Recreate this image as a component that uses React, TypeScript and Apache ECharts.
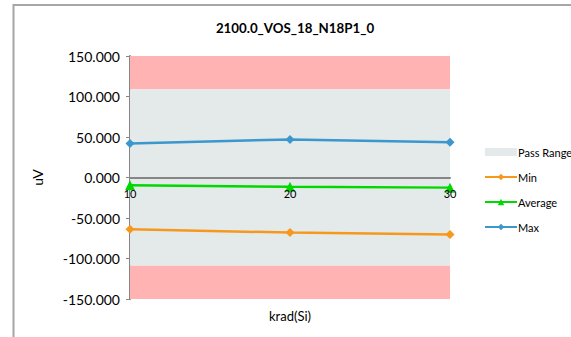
import React, { useEffect, useRef } from "react";
import * as echarts from "echarts";

const title = "2100.0_VOS_18_N18P1_0";
const categories = ["10", "20", "30"];
const minValues = [-64, -68, -70.5];
const avgValues = [-9.5, -11.5, -12.5];
const maxValues = [42, 47, 43.5];
const passLow = -109;
const passHigh = 109;
const yMin = -150;
const yMax = 150;
const yStep = 50;
const xName = "krad(Si)";
const yName = "uV";

const FONT = "Lato, 'Open Sans', sans-serif";

export default function App() {
  const ref = useRef<HTMLDivElement>(null);
  useEffect(() => {
    if (!ref.current) return;
    const chart = echarts.init(ref.current, null, { renderer: "svg" });
    chart.setOption({
      animation: false,
      backgroundColor: "#ffffff",
      textStyle: { fontFamily: FONT },
      title: {
        text: title,
        left: 290,
        textAlign: "center",
        top: 16,
        textStyle: { fontSize: 13.3, fontWeight: "bold", color: "#000", fontFamily: FONT },
      },
      grid: { left: 130, right: 121, top: 56, bottom: 38, containLabel: false },
      legend: {
        orient: "vertical",
        left: 479,
        top: 141.5,
        itemWidth: 32,
        itemHeight: 8,
        itemGap: 14,
        textStyle: { fontSize: 11, color: "#000", fontFamily: FONT, padding: [0, 0, 0, -4] },
        data: [
          { name: "Pass Range", icon: "rect", itemStyle: { color: "#e4eaea" } },
          { name: "Min" },
          { name: "Average" },
          { name: "Max" },
        ],
      },
      xAxis: {
        type: "category",
        data: categories,
        boundaryGap: false,
        offset: 0,
        axisLine: { onZero: false, lineStyle: { color: "#868686", width: 2 } },
        axisTick: { show: false },
        axisLabel: { color: "#000", fontSize: 11, margin: 10, fontFamily: FONT },
        splitLine: { show: false },
        z: 6,
      },
      yAxis: {
        type: "value",
        min: yMin,
        max: yMax,
        interval: yStep,
        name: yName,
        nameLocation: "middle",
        nameGap: 86,
        nameRotate: 90,
        nameTextStyle: { color: "#000", fontSize: 14, fontFamily: FONT },
        axisLine: { show: true, lineStyle: { color: "#868686", width: 2 } },
        axisTick: { show: true, inside: false, length: 4, lineStyle: { color: "#868686" } },
        axisLabel: {
          color: "#000",
          fontSize: 14,
          margin: 10,
          fontFamily: FONT,
          formatter: (v: number) => v.toFixed(3),
        },
        splitLine: { show: false },
      },
      graphic: [
        { type: "line", shape: { x1: 13.5, y1: 4, x2: 13.5, y2: 337 }, style: { stroke: "#a6a6a6", lineWidth: 2 } },
        { type: "line", shape: { x1: 13, y1: 5, x2: 571, y2: 5 }, style: { stroke: "#a6a6a6", lineWidth: 2 } },
        {
          type: "text",
          x: 290,
          y: 316,
          style: { text: xName, fill: "#000", font: `13px ${FONT}`, textAlign: "center", textVerticalAlign: "middle" },
        },
      ],
      series: [
        {
          name: "Pass Range",
          type: "line",
          data: [],
          itemStyle: { color: "#e4eaea" },
          z: 1,
          markArea: {
            silent: true,
            data: [
              [{ yAxis: yMax, itemStyle: { color: "#ffb3b3", opacity: 1 } }, { yAxis: passHigh }],
              [{ yAxis: passHigh, itemStyle: { color: "#e4eaea", opacity: 1 } }, { yAxis: passLow }],
              [{ yAxis: passLow, itemStyle: { color: "#ffb3b3", opacity: 1 } }, { yAxis: yMin }],
            ],
          },
        },
        {
          name: "Min",
          type: "line",
          data: minValues,
          symbol: "diamond",
          symbolSize: 9,
          lineStyle: { color: "#f7981d", width: 2.5 },
          itemStyle: { color: "#f7981d" },
          z: 5,
        },
        {
          name: "Average",
          type: "line",
          data: avgValues,
          symbol: "triangle",
          symbolSize: 10,
          lineStyle: { color: "#00d800", width: 2.5 },
          itemStyle: { color: "#00d800" },
          z: 5,
        },
        {
          name: "Max",
          type: "line",
          data: maxValues,
          symbol: "diamond",
          symbolSize: 9,
          lineStyle: { color: "#3b97cd", width: 2.5 },
          itemStyle: { color: "#3b97cd" },
          z: 5,
        },
      ],
    });
    // Move the category axis up to the value axis' zero, measured through the library's scale.
    const zeroY = chart.convertToPixel({ yAxisIndex: 0 }, 0) as number;
    const bottomY = chart.convertToPixel({ yAxisIndex: 0 }, yMin) as number;
    if (typeof zeroY === "number" && typeof bottomY === "number") {
      chart.setOption({ xAxis: { offset: zeroY - bottomY } });
    }
    return () => chart.dispose();
  }, []);
  return <div ref={ref} style={{ width: 571, height: 337, position: "absolute", left: 0, top: 0 }} />;
}
